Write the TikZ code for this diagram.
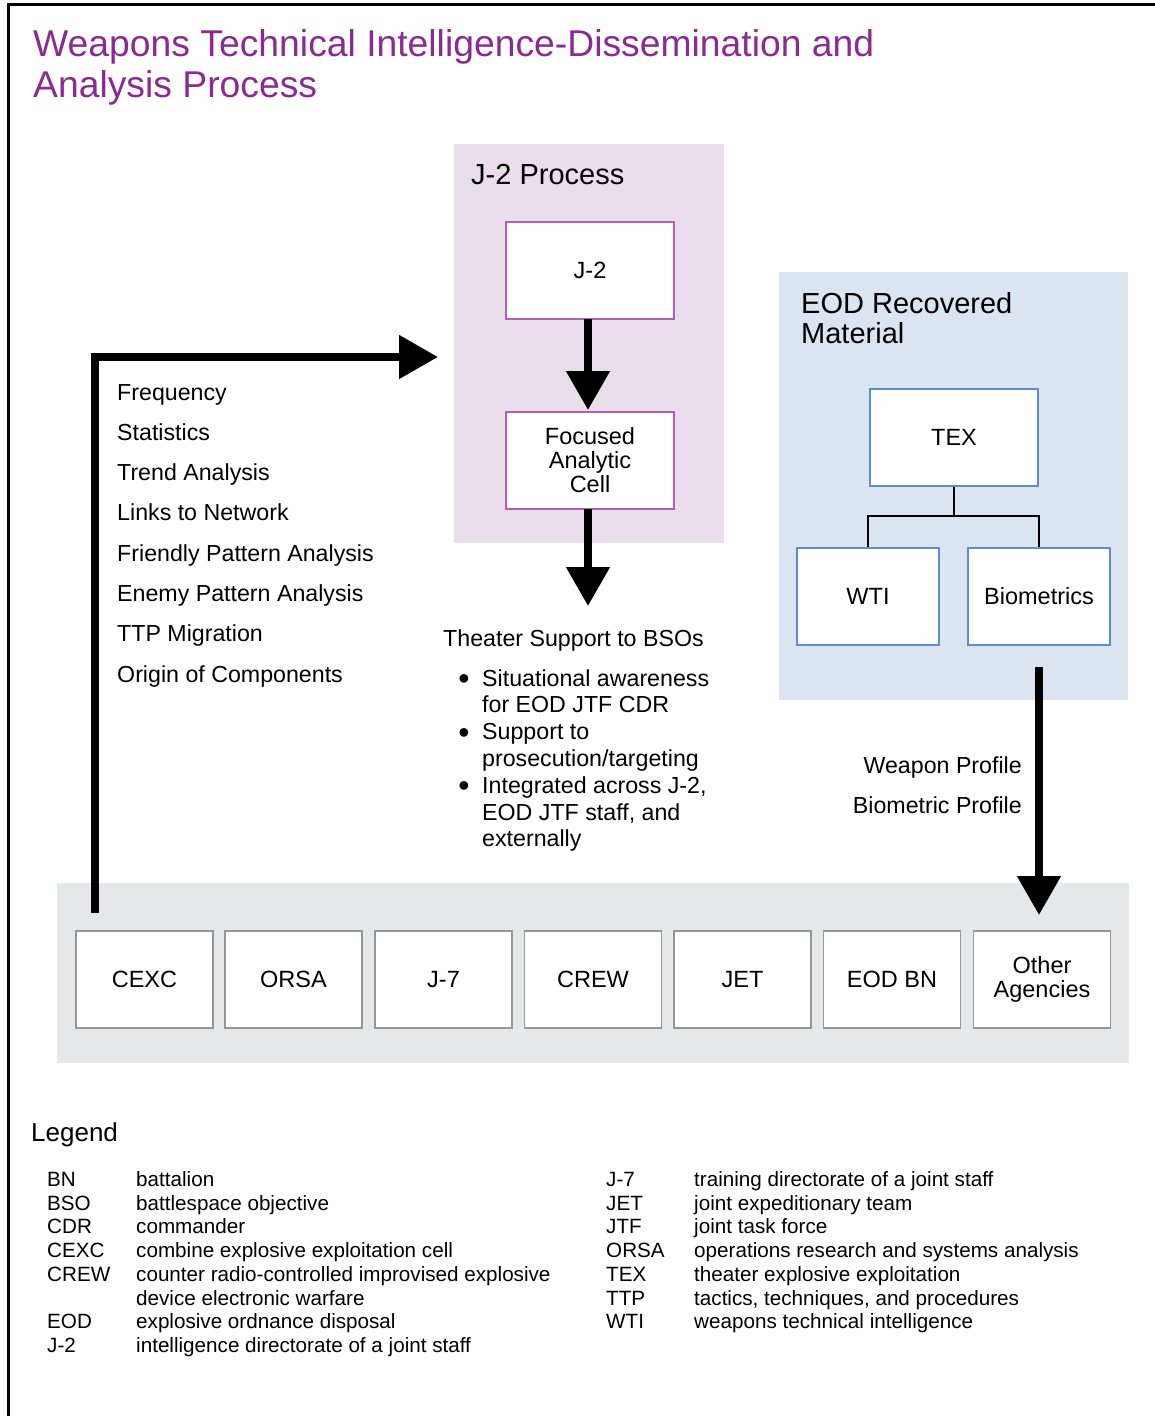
\documentclass[tikz,border=0pt]{standalone}
\usepackage{fontspec}
\setmainfont{Liberation Sans}
\usetikzlibrary{arrows.meta}
\definecolor{titlepurple}{RGB}{140,42,148}
\definecolor{lavender}{RGB}{234,221,236}
\definecolor{j2border}{RGB}{176,96,182}
\definecolor{paleblue}{RGB}{219,229,242}
\definecolor{texborder}{RGB}{92,140,210}
\definecolor{bandgray}{RGB}{230,231,233}
\definecolor{boxgray}{RGB}{150,150,150}
\newcommand\fTitle{\fontsize{37.3}{41}\selectfont}
\newcommand\fHead{\fontsize{29}{30}\selectfont}
\newcommand\fBody{\fontsize{23.2}{26.8}\selectfont}
\newcommand\fBox{\fontsize{23.5}{24}\selectfont}
\newcommand\fLegHead{\fontsize{26}{28}\selectfont}
\newcommand\fLeg{\fontsize{20.65}{23.7}\selectfont}
\newcommand\fBullet{\fontsize{32}{32}\selectfont}
\begin{document}
\begin{tikzpicture}[x=1pt,y=-1pt,
  basebox/.style={draw, line width=1.2pt, fill=white, minimum width=168pt, minimum height=97pt, inner sep=0pt, align=center, font=\fBox},
  purplebox/.style={basebox, draw=j2border},
  bluebox/.style={basebox, draw=texborder},
  wtibox/.style={bluebox, minimum width=142pt},
  agencybox/.style={basebox, draw=boxgray, minimum width=137pt},
  bigarrow/.style={line width=8pt, line join=miter, -{Triangle[width=42pt,length=39pt]}},
  treeline/.style={line width=2pt},
  bodytext/.style={anchor=base west, inner sep=0pt, font=\fBody},
  legtext/.style={anchor=base west, inner sep=0pt, font=\fLeg}]
\useasboundingbox (0,0) rectangle (1154,1416);
\fill[white] (0,0) rectangle (1154,1416);
% frame
\draw[line width=2.7pt] (8.7,1420) -- (8.7,4.7) -- (1160,4.7);
% title
\node[anchor=base west, inner sep=0pt, font=\fTitle, text=titlepurple] (title1) at (33,56) {Weapons Technical Intelligence-Dissemination and};
\node[anchor=base west, inner sep=0pt, font=\fTitle, text=titlepurple] (title2) at (33,97) {Analysis Process};
% background panels
\fill[lavender] (454,144) rectangle (724,543);
\fill[paleblue] (779,272) rectangle (1128,700);
\fill[bandgray] (57,883) rectangle (1129,1063);
% J-2 process
\node[anchor=base west, inner sep=0pt, font=\fHead] (j2title) at (471,184.5) {J-2 Process};
\node[purplebox] (j2) at (590,270.5) {J-2};
\node[purplebox] (fac) at (590,460.5) {Focused\\Analytic\\Cell};
\draw[bigarrow] (588,319) -- (588,410);
\coordinate (tstip) at (588,606);
\draw[bigarrow] (588,509) -- (tstip);
% EOD recovered material
\node[anchor=base west, inner sep=0pt, font=\fHead] (eodt1) at (801,313.5) {EOD Recovered};
\node[anchor=base west, inner sep=0pt, font=\fHead] (eodt2) at (801,343.5) {Material};
\node[bluebox] (tex) at (954,437.5) {TEX};
\node[wtibox] (wti) at (868,596.5) {WTI};
\node[wtibox] (bio) at (1039,596.5) {Biometrics};
\coordinate (junc) at (954,516);
\draw[treeline] (tex.south) -- (junc) -| (wti.north);
\draw[treeline] (junc) -| (bio.north);
% bottom band boxes
\node[agencybox] (cexc) at (144.5,979.5) {CEXC};
\node[agencybox] (orsa) at (293.5,979.5) {ORSA};
\node[agencybox] (j7) at (443.5,979.5) {J-7};
\node[agencybox] (crew) at (593,979.5) {CREW};
\node[agencybox] (jet) at (742.5,979.5) {JET};
\node[agencybox] (eodbn) at (892,979.5) {EOD BN};
\node[agencybox] (other) at (1042,979.5) {Other\\Agencies};
% arrows
\coordinate (lstart) at (95,913);
\coordinate (ltip) at (438,357);
\draw[bigarrow] (lstart) |- (ltip);
\coordinate (rstart) at (1039,667);
\coordinate (rtip) at (1039,915);
\draw[bigarrow] (rstart) -- (rtip);
% left list
\foreach \t [count=\i from 0] in {Frequency, Statistics, Trend Analysis, Links to Network, Friendly Pattern Analysis, Enemy Pattern Analysis, TTP Migration, Origin of Components}
  \node[bodytext] (list\i) at (117,400+40.3*\i) {\t};
% theater support
\node[bodytext] (ts) at (443,646) {Theater Support to BSOs};
\foreach \y [count=\i from 0] in {689,743,796}
  \node[anchor=base, inner sep=0pt, font=\fBullet] (bul\i) at (464,\y) {\textbullet};
\foreach \t [count=\i from 0] in {Situational awareness, for EOD JTF CDR, Support to, prosecution/targeting, {Integrated across J-2,}, {EOD JTF staff, and}, externally}
  \node[bodytext] (tsl\i) at (482,686+26.8*\i) {\t};
% profiles
\node[anchor=base east, inner sep=0pt, font=\fBody] (wp) at (1022,773) {Weapon Profile};
\node[anchor=base east, inner sep=0pt, font=\fBody] (bp) at (1022,813) {Biometric Profile};
% legend
\node[anchor=base west, inner sep=0pt, font=\fLegHead] (legend) at (31,1141) {Legend};
\foreach \a/\d [count=\i from 0] in {BN/battalion, BSO/battlespace objective, CDR/commander, CEXC/combine explosive exploitation cell, CREW/counter radio-controlled improvised explosive, /device electronic warfare, EOD/explosive ordnance disposal, J-2/intelligence directorate of a joint staff}{
  \node[legtext] (la\i) at (47,1186.5+23.7*\i) {\a};
  \node[legtext] (ld\i) at (136,1186.5+23.7*\i) {\d};
}
\foreach \a/\d [count=\i from 0] in {J-7/training directorate of a joint staff, JET/joint expeditionary team, JTF/joint task force, ORSA/operations research and systems analysis, TEX/theater explosive exploitation, TTP/{tactics, techniques, and procedures}, WTI/weapons technical intelligence}{
  \node[legtext] (ra\i) at (606,1186.5+23.7*\i) {\a};
  \node[legtext] (rd\i) at (694,1186.5+23.7*\i) {\d};
}
\end{tikzpicture}
\end{document}
